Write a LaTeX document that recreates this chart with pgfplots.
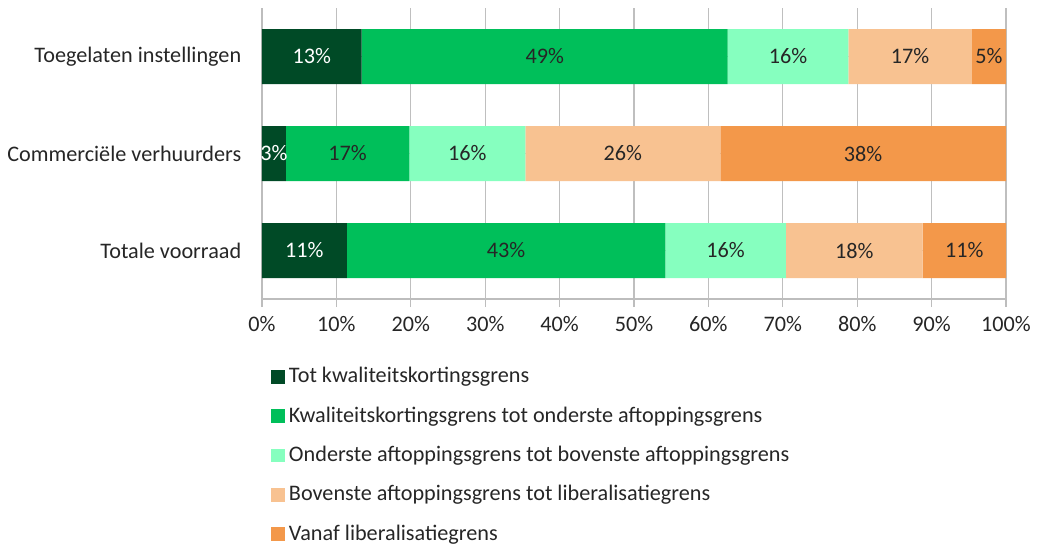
\documentclass[border=0pt]{standalone}
\usepackage{fontspec}
\setmainfont{Carlito}
\usepackage{pgfplots}
\pgfplotsset{compat=1.18}
\definecolor{cA}{HTML}{004A26}
\definecolor{cB}{HTML}{00BF5A}
\definecolor{cC}{HTML}{86FFBF}
\definecolor{cD}{HTML}{F8C291}
\definecolor{cE}{HTML}{F3984A}
\definecolor{txt}{HTML}{262626}
\definecolor{grid}{HTML}{BDBDBD}
\begin{document}
\fontsize{11.1}{13.3}\selectfont
\begin{tikzpicture}
\path[use as bounding box] (-131pt,-122pt) rectangle (387.5pt,149.5pt);
\begin{axis}[
  at={(0,0)}, anchor=south west,
  scale only axis, width=372pt, height=145.5pt,
  xbar stacked, bar width=27.5pt,
  xmin=0, xmax=100, ymin=-0.5, ymax=2.5,
  xtick={0,10,...,100},
  /pgf/number format/assume math mode=true,
  xticklabel={\pgfmathprintnumber{\tick}\%},
  ytick={0,1,2},
  yticklabels={Totale voorraad, Commerciële verhuurders, Toegelaten instellingen},
  font=\fontsize{11.1}{13.3}\selectfont,
  ticklabel style={text=txt},
  yticklabel style={xshift=-2.5pt},
  xmajorgrids, major grid style={grid, line width=0.6pt},
  axis x line*=bottom, axis y line*=left,
  x axis line style={grid, line width=0.6pt, -},
  y axis line style={grid, line width=0.6pt, -},
  xtick style={grid, line width=0.6pt},
  ytick style={draw=none},
  major tick length=4pt,
  tick align=outside,
  xticklabel style={yshift=-1pt},
  point meta=explicit symbolic,
  nodes near coords,
  every node near coord/.append style={anchor=center, font=\fontsize{11.1}{13.3}\selectfont},
  legend style={at={(0,0)}, anchor=north west, xshift=1.5pt, yshift=-30pt, draw=none, fill=none,
    legend cell align=left, row sep=6.3pt, font=\fontsize{11.1}{13.3}\selectfont, text=txt},
  legend image code/.code={\fill[#1] (0pt,-3.4pt) rectangle (6.8pt,3.4pt);},
]
\addplot[fill=cA, draw=none, every node near coord/.append style={text=white}] coordinates {(11.4,0)[11\%] (3.2,1)[3\%] (13.4,2)[13\%]};
\addplot[fill=cB, draw=none, every node near coord/.append style={text=txt}] coordinates {(42.8,0)[43\%] (16.6,1)[17\%] (49.2,2)[49\%]};
\addplot[fill=cC, draw=none, every node near coord/.append style={text=txt}] coordinates {(16.2,0)[16\%] (15.6,1)[16\%] (16.2,2)[16\%]};
\addplot[fill=cD, draw=none, every node near coord/.append style={text=txt}] coordinates {(18.4,0)[18\%] (26.2,1)[26\%] (16.6,2)[17\%]};
\addplot[fill=cE, draw=none, every node near coord/.append style={text=txt}] coordinates {(11.2,0)[11\%] (38.4,1)[38\%] (4.6,2)[5\%]};
\legend{Tot kwaliteitskortingsgrens, Kwaliteitskortingsgrens tot onderste aftoppingsgrens, Onderste aftoppingsgrens tot bovenste aftoppingsgrens, Bovenste aftoppingsgrens tot liberalisatiegrens, Vanaf liberalisatiegrens}
\end{axis}
\end{tikzpicture}
\end{document}
